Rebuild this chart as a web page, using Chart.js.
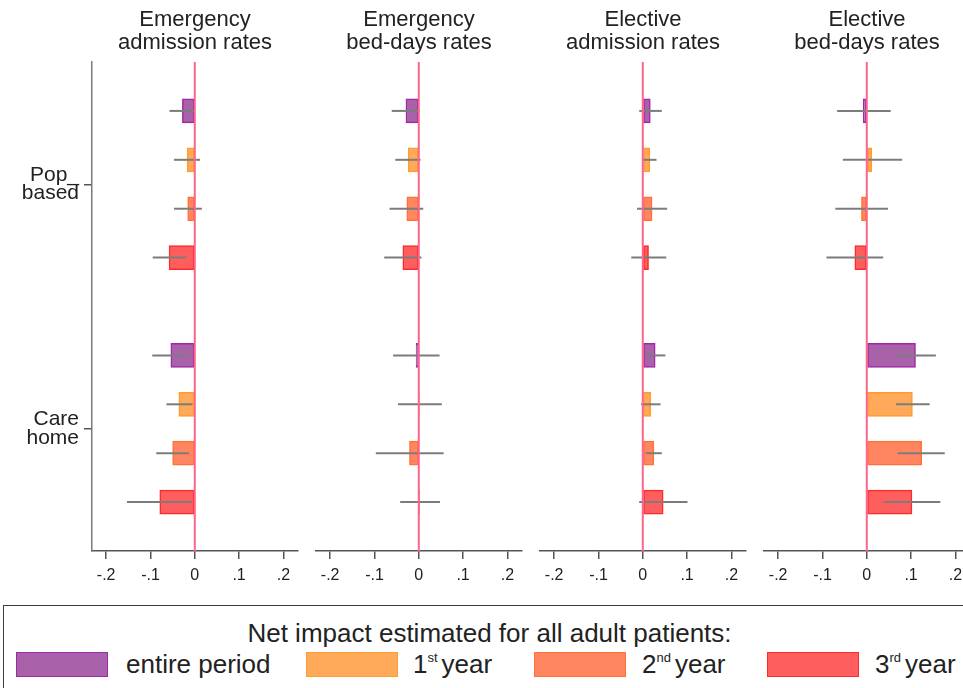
<!DOCTYPE html>
<html>
<head>
<meta charset="utf-8">
<title>Net impact estimates</title>
<script src="https://cdn.jsdelivr.net/npm/chart.js@4.4.1/dist/chart.umd.min.js"></script>
<style>
  html, body { margin: 0; padding: 0; background: #fff; }
  body { position: relative; width: 963px; height: 688px; overflow: hidden;
         font-family: "Liberation Sans", Arial, sans-serif; color: #222; }
  .panel { position: absolute; top: 0; }
  #legend { position: absolute; left: 3px; top: 605px; width: 1000px; height: 120px;
            border: 1.5px solid #3c3c3c; box-sizing: border-box; }
  #legend .ttl { position: absolute; left: 0; top: 12px; width: 971px; text-align: center;
                 font-size: 26px; line-height: 30px; white-space: nowrap; }
  #legend .sw { position: absolute; top: 46px; width: 90px; height: 23px; border: 1.5px solid; }
  #legend .lb { position: absolute; top: 43px; font-size: 26px; line-height: 30px; white-space: nowrap; }
  #legend sup { font-size: 13px; vertical-align: 11px; line-height: 0; margin-right: 4px; }
</style>
</head>
<body>
<canvas id="p0" class="panel"></canvas>
<canvas id="p1" class="panel"></canvas>
<canvas id="p2" class="panel"></canvas>
<canvas id="p3" class="panel"></canvas>
<div id="legend"></div>

<script>
// ---- data -------------------------------------------------------------
const panelTitles = [
  ['Emergency', 'admission rates'],
  ['Emergency', 'bed-days rates'],
  ['Elective', 'admission rates'],
  ['Elective', 'bed-days rates']
];
const groupLabels = [['Pop_', 'based'], ['Care', 'home']];
const seriesNames = ['entire period', '1st year', '2nd year', '3rd year'];
const legendTitle = 'Net impact estimated for all adult patients:';
const xTickValues = [-0.2, -0.1, 0, 0.1, 0.2];
const xTickLabels = ['-.2', '-.1', '0', '.1', '.2'];

// order in every array: Pop_based (entire, 1st, 2nd, 3rd), then Care home (entire, 1st, 2nd, 3rd)
const emergAdmEst = [-0.028, -0.017, -0.016, -0.058, -0.054, -0.036, -0.050, -0.079];
const emergAdmLo  = [-0.057, -0.047, -0.047, -0.095, -0.096, -0.064, -0.087, -0.153];
const emergAdmHi  = [-0.001,  0.012,  0.016, -0.020, -0.012, -0.005, -0.013, -0.007];

const emergBedEst = [-0.029, -0.024, -0.027, -0.036, -0.006,  0.002, -0.021,  0.002];
const emergBedLo  = [-0.061, -0.053, -0.066, -0.078, -0.058, -0.047, -0.097, -0.042];
const emergBedHi  = [ 0.002,  0.004,  0.010,  0.006,  0.047,  0.052,  0.056,  0.048];

const electAdmEst = [ 0.017,  0.016,  0.021,  0.013,  0.028,  0.018,  0.025,  0.046];
const electAdmLo  = [-0.008, -0.002, -0.013, -0.026,  0.004, -0.004,  0.007, -0.008];
const electAdmHi  = [ 0.043,  0.031,  0.055,  0.053,  0.051,  0.040,  0.043,  0.101];

const electBedEst = [-0.008,  0.011, -0.012, -0.027,  0.110,  0.103,  0.124,  0.102];
const electBedLo  = [-0.067, -0.054, -0.071, -0.091,  0.067,  0.066,  0.070,  0.038];
const electBedHi  = [ 0.054,  0.080,  0.048,  0.037,  0.156,  0.142,  0.176,  0.166];

// ---- styling ----------------------------------------------------------
const FONT = '"Liberation Sans", Arial, sans-serif';
const fills   = ['#a962aa', '#ffa95a', '#ff8661', '#ff5e5e'];
const borders = ['#a126a9', '#ff9c2c', '#ff7236', '#ff2a2a'];
const ciColor = '#7c7c7c';
const zeroColor = '#ff6489';

const panels = [
  { est: emergAdmEst, lo: emergAdmLo, hi: emergAdmHi },
  { est: emergBedEst, lo: emergBedLo, hi: emergBedHi },
  { est: electAdmEst, lo: electAdmLo, hi: electAdmHi },
  { est: electBedEst, lo: electBedLo, hi: electBedHi }
];

const PLOT_W = 206;              // width of each plot area
const plotLefts = [92, 316, 540, 764];
const SIDE_PAD = 20;
const CANVAS_H = 600;

// confidence-interval lines and the zero reference line
function makeOverlay(panel) {
  return {
    id: 'ciOverlay',
    afterDatasetsDraw(chart) {
      const { ctx, chartArea, scales: { x } } = chart;
      ctx.save();
      ctx.strokeStyle = ciColor;
      ctx.lineWidth = 2;
      chart.data.datasets.forEach((ds, s) => {
        const meta = chart.getDatasetMeta(s);
        meta.data.forEach((bar, g) => {
          const k = g * 4 + s;
          ctx.beginPath();
          ctx.moveTo(x.getPixelForValue(panel.lo[k]), bar.y);
          ctx.lineTo(x.getPixelForValue(panel.hi[k]), bar.y);
          ctx.stroke();
        });
      });
      const x0 = x.getPixelForValue(0);
      ctx.strokeStyle = zeroColor;
      ctx.lineWidth = 2;
      ctx.beginPath();
      ctx.moveTo(x0, chartArea.top);
      ctx.lineTo(x0, chartArea.bottom);
      ctx.stroke();
      ctx.restore();
    }
  };
}

panels.forEach((panel, i) => {
  const first = i === 0;
  const canvas = document.getElementById('p' + i);
  const left = first ? 0 : plotLefts[i] - SIDE_PAD;
  const width = first ? plotLefts[0] + PLOT_W + SIDE_PAD : PLOT_W + 2 * SIDE_PAD;
  canvas.width = width;
  canvas.height = CANVAS_H;
  canvas.style.left = left + 'px';
  canvas.style.width = width + 'px';
  canvas.style.height = CANVAS_H + 'px';

  const datasets = seriesNames.map((name, s) => ({
    label: name,
    data: groupLabels.map((g, gi) => ({ x: panel.est[gi * 4 + s], y: gi * 5 + s + 1 })),
    backgroundColor: fills[s],
    borderColor: borders[s],
    borderWidth: 1.5,
    borderSkipped: false,
    barThickness: 24,
    grouped: false
  }));

  new Chart(canvas, {
    type: 'bar',
    data: { datasets },
    options: {
      indexAxis: 'y',
      responsive: false,
      animation: false,
      events: [],
      layout: { padding: { left: first ? 0 : SIDE_PAD, right: SIDE_PAD, top: 0, bottom: 0 } },
      plugins: {
        legend: { display: false },
        tooltip: { enabled: false },
        title: {
          display: true,
          text: panelTitles[i],
          fullSize: false,
          color: '#222',
          font: { family: FONT, size: 22, weight: 'normal', lineHeight: 1.03 },
          padding: { top: 9, bottom: 7.7 }
        }
      },
      scales: {
        x: {
          type: 'linear',
          min: -0.232,
          max: 0.233,
          afterBuildTicks: sc => { sc.ticks = xTickValues.map(v => ({ value: v })); },
          afterFit: sc => { sc.height = 49; },
          grid: { display: true, drawOnChartArea: false, drawTicks: true, tickLength: 8,
                  color: '#555', lineWidth: 1.5 },
          border: { display: true, color: '#555', width: 1.5 },
          ticks: {
            callback: (v, idx) => xTickLabels[idx],
            font: { family: FONT, size: 16 },
            color: '#222',
            padding: 7,
            maxRotation: 0,
            autoSkip: false
          }
        },
        y: {
          type: 'linear',
          reverse: true,
          min: 0,
          max: 10,
          offset: false,
          display: first,
          afterBuildTicks: sc => { sc.ticks = [{ value: 2.5 }, { value: 7.5 }]; },
          afterFit: sc => { sc.width = first ? plotLefts[0] : 0; },
          grid: { display: true, offset: false, drawOnChartArea: false, drawTicks: true,
                  tickLength: 8, color: '#555', lineWidth: 1.5 },
          border: { display: true, color: '#7a7a7a', width: 1.5 },
          ticks: {
            callback: (v, idx) => groupLabels[idx],
            font: { family: FONT, size: 21, lineHeight: 0.88 },
            color: '#222',
            padding: 5,
            autoSkip: false
          }
        }
      }
    },
    plugins: [makeOverlay(panel)]
  });
});

// ---- legend -----------------------------------------------------------
const legendSwatchX = [12, 302, 530, 763];
const legendTextX = [122, 409, 638, 871];
const legendHtml = [
  'entire period',
  '1<sup>st</sup>year',
  '2<sup>nd</sup>year',
  '3<sup>rd</sup>year'
];
const legend = document.getElementById('legend');
let html = '<div class="ttl">' + legendTitle + '</div>';
seriesNames.forEach((name, s) => {
  html += '<div class="sw" style="left:' + legendSwatchX[s] + 'px;background:' + fills[s] +
          ';border-color:' + borders[s] + '"></div>';
  html += '<div class="lb" style="left:' + legendTextX[s] + 'px">' + legendHtml[s] + '</div>';
});
legend.innerHTML = html;
</script>
</body>
</html>
